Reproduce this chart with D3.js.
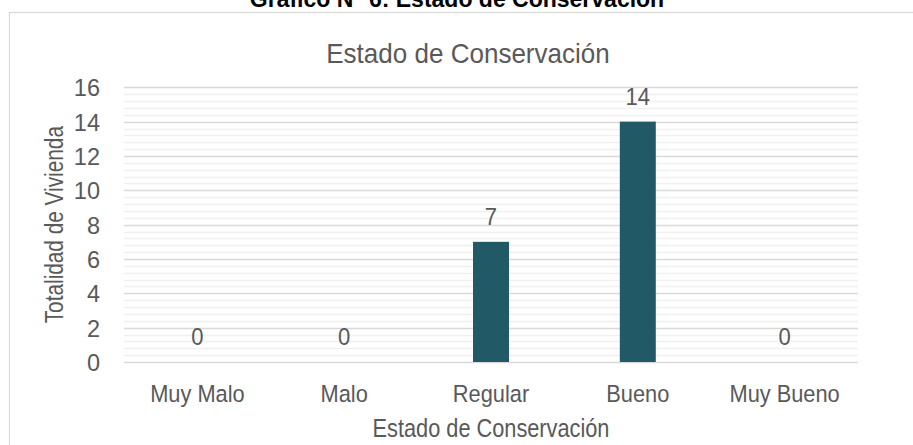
<!DOCTYPE html>
<html>
<head>
<meta charset="utf-8">
<script src="https://cdn.jsdelivr.net/npm/d3@7"></script>
<style>
  html, body { margin: 0; padding: 0; background: #fff; }
  svg { display: block; }
  text { font-family: "Liberation Sans", Arial, sans-serif; }
</style>
</head>
<body>
<svg id="chart" width="913" height="445"></svg>
<script>
// Conservation state of the surveyed dwellings
const categories = ["Muy Malo", "Malo", "Regular", "Bueno", "Muy Bueno"];
const values = [0, 0, 7, 14, 0];
const majorTicks = [0, 2, 4, 6, 8, 10, 12, 14, 16];
const minorStep = 0.4;

const header = "Gráfico N° 6: Estado de Conservación";
const chartTitle = "Estado de Conservación";
const xTitle = "Estado de Conservación";
const yTitle = "Totalidad de Vivienda";

const W = 913, H = 445;
const plot = { left: 124, right: 858, top: 87.3, bottom: 362 };
const textColor = "#595959";
const barColor = "#215967";

const svg = d3.select("#chart");

const x = d3.scaleBand()
  .domain(categories)
  .range([plot.left, plot.right])
  .paddingInner(0.755)
  .paddingOuter(0.3775);

const y = d3.scaleLinear()
  .domain([0, 16])
  .range([plot.bottom, plot.top]);

// outer chart frame (only top and left edges fall inside the page)
svg.append("rect")
  .attr("x", 9.5).attr("y", 12.5)
  .attr("width", W + 20).attr("height", H + 20)
  .attr("fill", "none")
  .attr("stroke", "#d9d9d9")
  .attr("stroke-width", 1.2);

// caption above the frame (its upper part runs off the page)
svg.append("text")
  .attr("x", 457).attr("y", 6.5)
  .attr("text-anchor", "middle")
  .attr("font-weight", "bold")
  .attr("font-size", 23)
  .attr("fill", "#000")
  .text(header);

// helper: text with a slight horizontal condensation
function label(g, str, tx, ty, size, sx, anchor, rotate) {
  return g.append("text")
    .attr("transform", `translate(${tx},${ty})` + (rotate ? ` rotate(${rotate})` : "") + ` scale(${sx},1)`)
    .attr("text-anchor", anchor)
    .attr("font-size", size)
    .attr("fill", textColor)
    .text(str);
}

// minor gridlines
const minorVals = d3.range(0, 16 + 1e-9, minorStep).filter(v => Math.abs(v / 2 - Math.round(v / 2)) > 1e-6);
svg.append("g").selectAll("line")
  .data(minorVals)
  .join("line")
  .attr("x1", plot.left).attr("x2", plot.right)
  .attr("y1", d => Math.round(y(d)) + 0.5).attr("y2", d => Math.round(y(d)) + 0.5)
  .attr("stroke", "#f0f0f0").attr("stroke-width", 1.3);

// major gridlines and baseline
svg.append("g").selectAll("line")
  .data(majorTicks)
  .join("line")
  .attr("x1", plot.left).attr("x2", plot.right)
  .attr("y1", d => Math.round(y(d)) + 0.5).attr("y2", d => Math.round(y(d)) + 0.5)
  .attr("stroke", "#d9d9d9").attr("stroke-width", 1.3);

// y axis tick labels
const yAxis = d3.axisLeft(y).tickValues(majorTicks).tickSize(0).tickPadding(24);
const yG = svg.append("g").attr("transform", `translate(${plot.left},0)`).call(yAxis);
yG.select(".domain").remove();
yG.selectAll("text")
  .attr("font-family", "'Liberation Sans', Arial, sans-serif")
  .attr("font-size", 23.5)
  .attr("fill", textColor)
  .attr("dy", "0.36em");

// bars
svg.append("g").selectAll("rect")
  .data(values)
  .join("rect")
  .attr("x", (d, i) => x(categories[i]))
  .attr("width", x.bandwidth())
  .attr("y", d => y(d))
  .attr("height", d => y(0) - y(d))
  .attr("fill", barColor);

// value labels
const vl = svg.append("g");
values.forEach((v, i) => {
  label(vl, String(v), x(categories[i]) + x.bandwidth() / 2, y(v) - 17, 24, 0.92, "middle");
});

// category labels
const xl = svg.append("g");
categories.forEach(c => {
  label(xl, c, x(c) + x.bandwidth() / 2, 402, 24.5, 0.89, "middle");
});

// titles
label(svg, chartTitle, 468, 63, 28, 0.93, "middle");
label(svg, xTitle, 491, 436.5, 25, 0.87, "middle");
label(svg, yTitle, 62.5, (plot.top + plot.bottom) / 2, 26, 0.8, "middle", -90);
</script>
</body>
</html>
